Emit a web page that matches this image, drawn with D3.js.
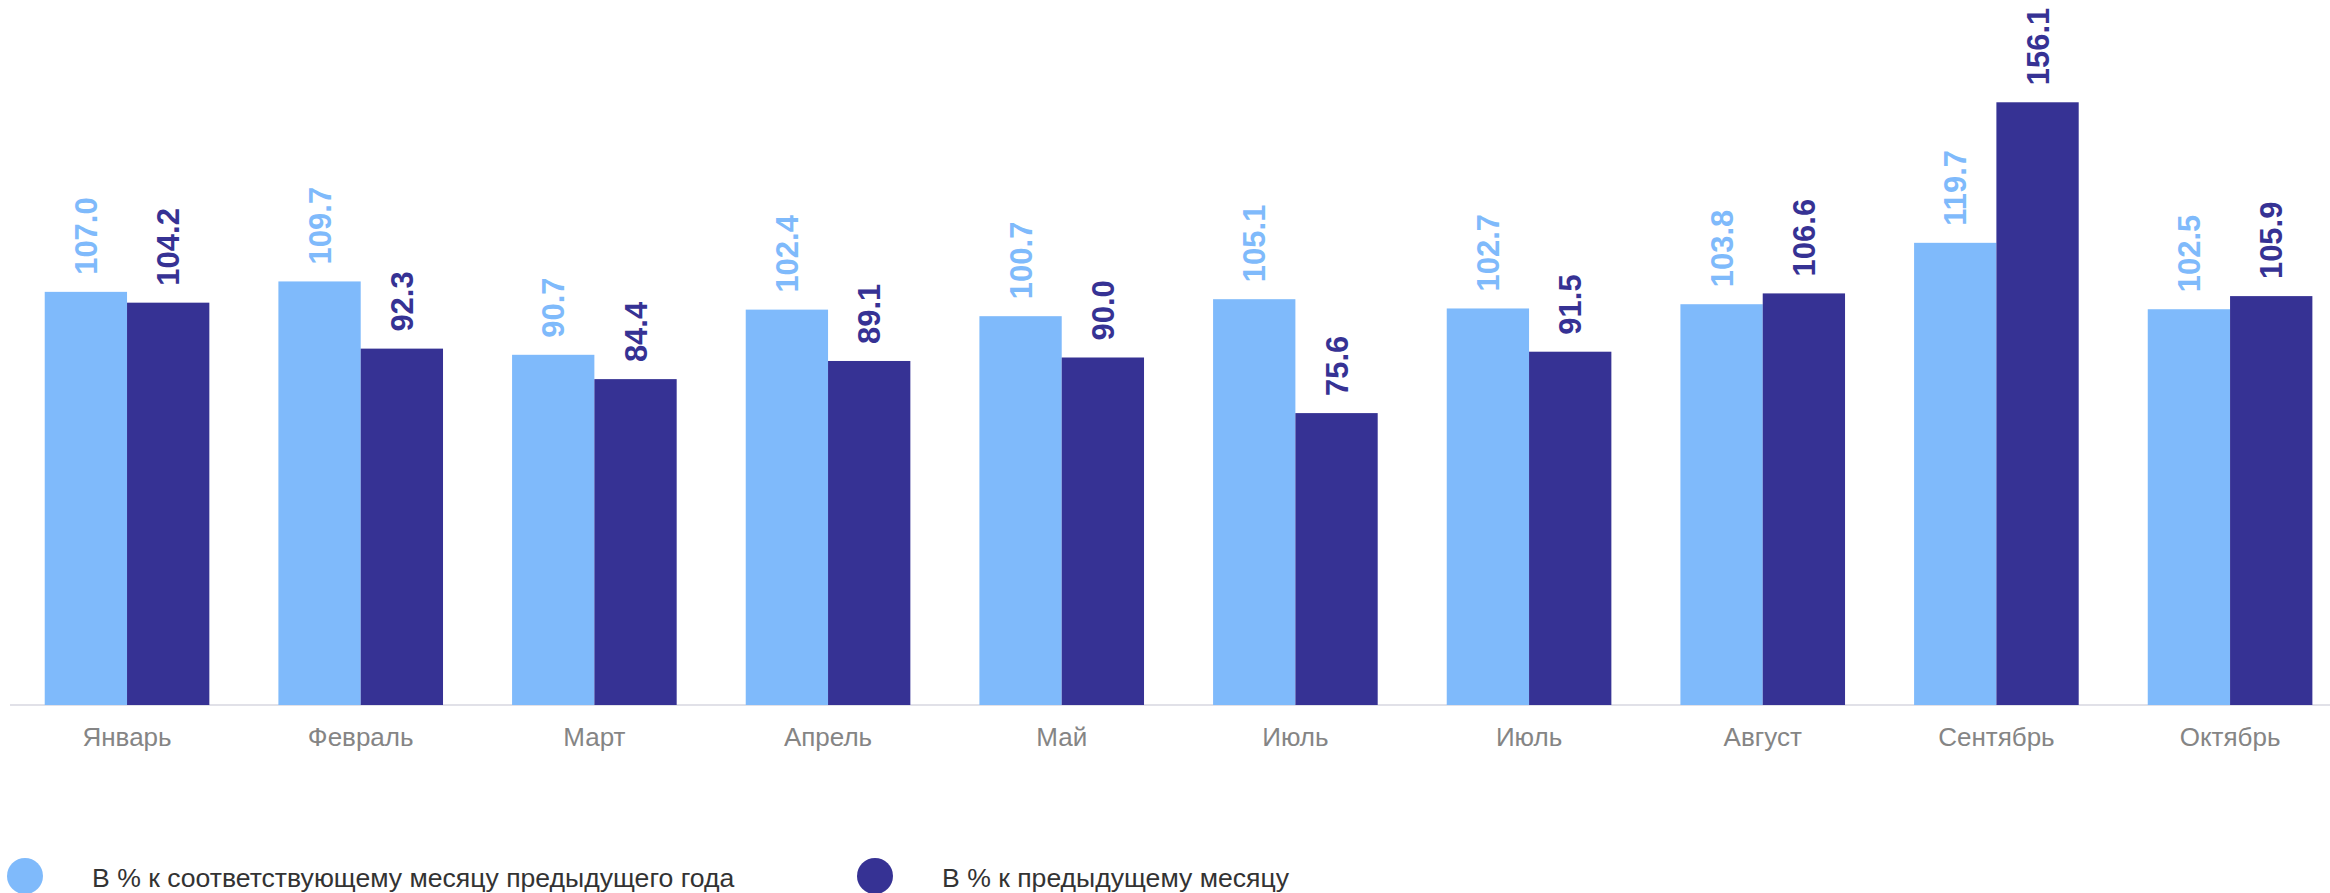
<!DOCTYPE html>
<html>
<head>
<meta charset="utf-8">
<script src="https://cdn.jsdelivr.net/npm/d3@7"></script>
<style>
  html, body { margin: 0; padding: 0; background: #ffffff; }
  svg { display: block; }
</style>
</head>
<body>
<svg id="chart" width="2330" height="893"></svg>
<script>
const categories = ["Январь", "Февраль", "Март", "Апрель", "Май", "Июль", "Июль", "Август", "Сентябрь", "Октябрь"];
const seriesNames = ["В % к соответствующему месяцу предыдущего года", "В % к предыдущему месяцу"];
const yoyValues = [107.0, 109.7, 90.7, 102.4, 100.7, 105.1, 102.7, 103.8, 119.7, 102.5];
const momValues = [104.2, 92.3, 84.4, 89.1, 90.0, 75.6, 91.5, 106.6, 156.1, 105.9];
const colors = ["#7fbafb", "#363294"];

const W = 2330, H = 893;
const svg = d3.select("#chart");

const rows = categories.map((c, i) => ({ i, cat: c, vals: [yoyValues[i], momValues[i]] }));

const x0 = d3.scaleBand()
  .domain(d3.range(categories.length))
  .range([10.2, 2346.9])
  .paddingInner(0.2955)
  .paddingOuter(0.2955 / 2);

const x1 = d3.scaleBand()
  .domain([0, 1])
  .range([0, x0.bandwidth()])
  .padding(0);

const y = d3.scaleLinear().domain([0, 180]).range([705, 10]);

// axis
const xAxis = d3.axisBottom(x0)
  .tickSize(0)
  .tickPadding(23)
  .tickFormat(i => categories[i]);

const gAxis = svg.append("g")
  .attr("transform", `translate(0,${y(0)})`)
  .call(xAxis);
gAxis.select(".domain")
  .attr("stroke", "#e1e1e8")
  .attr("stroke-width", 2)
  .attr("d", `M10,0H${W}`);
gAxis.selectAll("text")
  .attr("fill", "#858585")
  .style("font-family", "'Liberation Sans', Arial, sans-serif")
  .style("font-size", "26px");

// bars
const groups = svg.append("g").selectAll("g")
  .data(rows)
  .join("g")
  .attr("transform", d => `translate(${x0(d.i)},0)`);

groups.selectAll("rect")
  .data(d => d.vals.map((v, k) => ({ k, v })))
  .join("rect")
  .attr("x", d => x1(d.k))
  .attr("width", x1.bandwidth())
  .attr("y", d => y(d.v))
  .attr("height", d => y(0) - y(d.v))
  .attr("fill", d => colors[d.k]);

// value labels
groups.selectAll("text.val")
  .data(d => d.vals.map((v, k) => ({ k, v })))
  .join("text")
  .attr("class", "val")
  .attr("transform", d => `translate(${x1(d.k) + x1.bandwidth() / 2},${y(d.v) - 17}) rotate(-90)`)
  .attr("dy", "0.36em")
  .attr("text-anchor", "start")
  .attr("fill", d => colors[d.k])
  .style("font-family", "'Liberation Sans', Arial, sans-serif")
  .style("font-weight", "bold")
  .style("font-size", "31px")
  .text(d => d.v.toFixed(1));

// legend
const legendX = [25, 875];
const legend = svg.append("g").selectAll("g")
  .data(seriesNames)
  .join("g")
  .attr("transform", (d, k) => `translate(${legendX[k]},876)`);
legend.append("circle")
  .attr("r", 18)
  .attr("fill", (d, k) => colors[k]);
legend.append("text")
  .attr("x", 67)
  .attr("y", 11)
  .attr("fill", "#333333")
  .style("font-family", "'Liberation Sans', Arial, sans-serif")
  .style("font-size", "26.6px")
  .text(d => d);
</script>
</body>
</html>
